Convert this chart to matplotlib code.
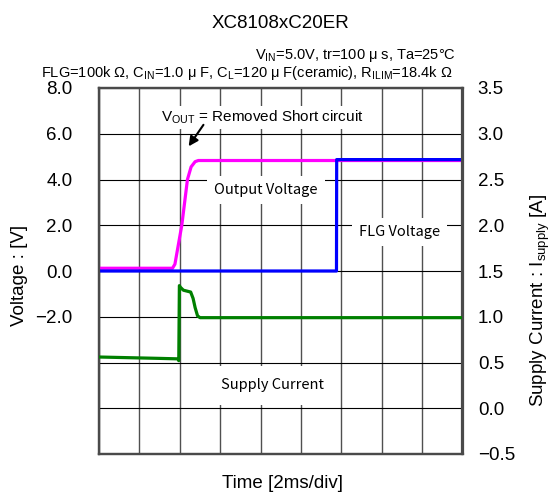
import numpy as np
import matplotlib
matplotlib.use("Agg")
import matplotlib.pyplot as plt
from matplotlib.ticker import FixedLocator

plt.rcParams['font.family'] = ['Liberation Sans', 'Noto Sans CJK JP', 'DejaVu Sans']
plt.rcParams['mathtext.fontset'] = 'custom'
plt.rcParams['mathtext.rm'] = 'Liberation Sans'
plt.rcParams['mathtext.it'] = 'Liberation Sans:italic'

# Output voltage (magenta), time in ms
t_vout = [0.0, 3.64, 3.76, 3.90, 4.10, 4.24, 4.38, 4.56, 4.76, 4.92, 18.0]
v_out  = [0.12, 0.12, 0.30, 1.00, 2.00, 3.00, 4.00, 4.55, 4.78, 4.83, 4.83]

# FLG voltage (blue)
t_flg = [0.0, 11.76, 11.77, 18.0]
v_flg = [0.0, 0.0, 4.87, 4.87]

# Supply current (green), right axis [A]
t_isup = [0.0, 3.0, 3.90, 3.95, 3.98, 4.04, 4.18, 4.54, 4.66, 4.76, 4.88, 5.00, 18.0]
i_sup  = [0.56, 0.545, 0.54, 0.52, 1.34, 1.32, 1.29, 1.27, 1.20, 1.10, 1.01, 0.99, 0.99]

x_ticks = [0, 2, 4, 6, 8, 10, 12, 14, 16, 18]
left_ticks = [-8, -6, -4, -2, 0, 2, 4, 6, 8]
left_labels = ["", "", "", "-2.0", "0.0", "2.0", "4.0", "6.0", "8.0"]
right_ticks = [-0.5, 0.0, 0.5, 1.0, 1.5, 2.0, 2.5, 3.0, 3.5]


def to_right(v):
    # left axis volts -> right axis amps (both span 8 divisions)
    return v / 4 + 1.5


W, H = 553, 493
fig = plt.figure(figsize=(W / 100, H / 100), dpi=100)
ax = fig.add_axes([99 / W, 1 - 454 / H, (462.5 - 99) / W, (454 - 88) / H])

ax.set_xlim(0, 18)
ax.set_ylim(-8, 8)
ax.set_xticks(x_ticks)
ax.tick_params(axis='x', length=0, labelbottom=False)
ax.yaxis.set_major_locator(FixedLocator(left_ticks))
ax.set_yticklabels([s.replace("-", "\u2212") for s in left_labels])
ax.tick_params(axis='y', length=0, labelsize=13.5, pad=19)

# grid: horizontal black, vertical gray
ax.grid(True, axis='y', color='black', linewidth=0.8)
ax.grid(True, axis='x', color='#505050', linewidth=1.0)
ax.set_axisbelow(True)

ax.plot(t_vout, v_out, color='#ff00ff', linewidth=2.3, zorder=3)
ax.plot(t_flg, v_flg, color='#0000ff', linewidth=2.3, zorder=4)

ax2 = ax.twinx()
ax2.set_ylim(-0.5, 3.5)
ax2.yaxis.set_major_locator(FixedLocator(right_ticks))
ax2.set_yticklabels([f"{v:.1f}".replace("-", "\u2212") for v in right_ticks])
ax2.tick_params(axis='y', length=0, labelsize=13.5, pad=11)
ax2.plot(t_isup, i_sup, color='#008000', linewidth=2.3, zorder=3)

for a in (ax, ax2):
    for s in a.spines.values():
        s.set_color('#4a4a4a')
        s.set_linewidth(1.6)

box = dict(facecolor='white', edgecolor='none', pad=5)
jp = ['Noto Sans CJK JP', 'DejaVu Sans']
ax2.text(8.27, to_right(3.55), "Output Voltage", ha='center', va='center', fontsize=10.5, family=jp, bbox=box, zorder=5)
ax2.text(14.9, to_right(1.71), "FLG Voltage", ha='center', va='center', fontsize=10.5, family=jp, bbox=box, zorder=5)
ax2.text(8.6, 0.25, "Supply Current", ha='center', va='center', fontsize=10.5, family=jp,
         bbox=dict(facecolor='white', edgecolor='none', pad=9), zorder=5)
ax2.text(8.07, to_right(6.72), "V$_{\\rm OUT}$ = Removed Short circuit", ha='center', va='center', fontsize=11,
         bbox=dict(facecolor='white', edgecolor='none', pad=2), zorder=5)
ax2.annotate("", xy=(4.36, to_right(5.35)), xytext=(5.25, to_right(6.49)),
             arrowprops=dict(arrowstyle='-|>', color='black', lw=1.5, mutation_scale=14), zorder=6)

fig.text(280 / W, 1 - 24 / H, "XC8108xC20ER", ha='center', va='center', fontsize=13.5)
fig.text(456 / W, 1 - 56 / H, "V$_{\\rm IN}$=5.0V, tr=100 μ s, Ta=25°C", ha='right', va='center', fontsize=10.5)
fig.text(453 / W, 1 - 73 / H,
         "FLG=100k Ω, C$_{\\rm IN}$=1.0 μ F, C$_{\\rm L}$=120 μ F(ceramic), R$_{\\rm ILIM}$=18.4k Ω",
         ha='right', va='center', fontsize=10.5)

fig.text(283 / W, 1 - 484 / H, "Time [2ms/div]", ha='center', va='center', fontsize=13.5)
fig.text(20 / W, 1 - 275 / H, "Voltage : [V]", ha='center', va='center', rotation=90, fontsize=13.5)
fig.text(540 / W, 1 - 300 / H, "Supply Current : I$_{\\rm supply}$ [A]", ha='center', va='center',
         rotation=90, fontsize=13.5)

fig.savefig("out.png", dpi=100)
